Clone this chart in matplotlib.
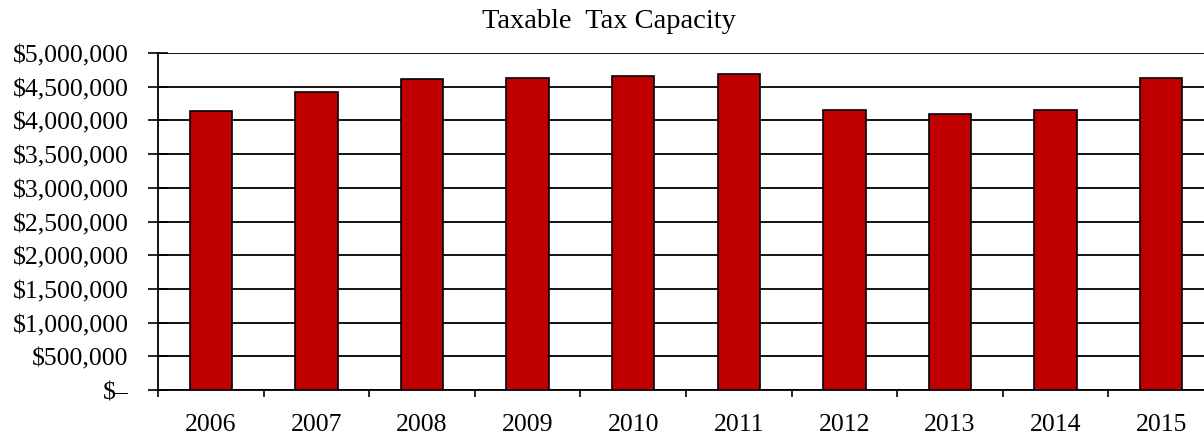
import matplotlib
matplotlib.use("Agg")
import matplotlib.pyplot as plt
from matplotlib.ticker import FuncFormatter, MultipleLocator

years = ["2006", "2007", "2008", "2009", "2010", "2011", "2012", "2013", "2014", "2015"]
capacity = [4140000, 4426000, 4614000, 4634000, 4659000, 4688000, 4159000, 4090000, 4159000, 4634000]
title = "Taxable  Tax Capacity"

plt.rcParams['font.family'] = ['Liberation Serif', 'DejaVu Serif']

fig = plt.figure(figsize=(12.04, 4.35), dpi=100)
ax = fig.add_axes([158 / 1204, 1 - 391 / 435, (1214 - 158) / 1204, (391 - 54) / 435])

x = list(range(len(years)))
ax.bar(x, capacity, width=0.4, color="#C00000", edgecolor="black", linewidth=1.2, zorder=3)

ax.set_xlim(-0.5, len(years) - 0.5)
ax.set_ylim(0, 5000000)
ax.yaxis.set_major_locator(MultipleLocator(500000))

def fmt(v, pos):
    if abs(v) < 1:
        return "$\u2013"
    return "${:,.0f}".format(v)

ax.yaxis.set_major_formatter(FuncFormatter(fmt))
ax.set_xticks([i - 0.5 for i in range(len(years) + 1)], minor=False)
ax.set_xticklabels([""] * (len(years) + 1))
ax.set_xticks(x, minor=True)
ax.set_xticklabels(years, minor=True)
ax.tick_params(axis="x", which="minor", length=0, labelsize=18.5, pad=16.5)
ax.tick_params(axis="x", which="major", direction="out", length=5, width=1.2)
ax.tick_params(axis="y", direction="inout", length=14, width=1.2, labelsize=18.5, pad=14)

ax.grid(axis="y", color="black", linewidth=1.3, zorder=0)
ax.set_axisbelow(True)
for s in ["top", "right"]:
    ax.spines[s].set_visible(False)
ax.spines["left"].set_linewidth(1.3)
ax.spines["bottom"].set_linewidth(1.3)

fig.text(609 / 1204, 1 - 28.3 / 435, title, ha="center", va="baseline", fontsize=20.5)

fig.savefig("out.png", dpi=100)
